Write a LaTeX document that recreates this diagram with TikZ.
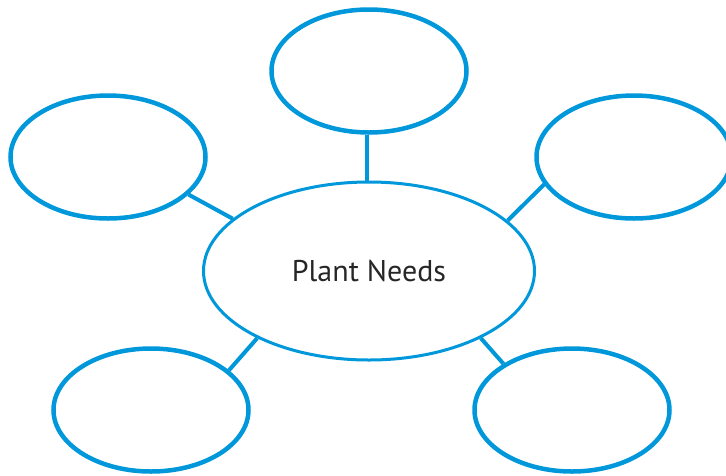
\documentclass[tikz,border=0pt]{standalone}
\usepackage{fontspec}
\setmainfont{PT Sans}
\usetikzlibrary{shapes.geometric}
\definecolor{mapblue}{RGB}{0,152,218}
\tikzset{
  bubble/.style={ellipse, draw=mapblue, line width=4.5pt, minimum width=195pt, minimum height=123pt, inner sep=0pt},
  hub/.style={ellipse, draw=mapblue, line width=3pt, minimum width=331pt, minimum height=178pt, inner sep=0pt, font=\fontsize{30}{34}\selectfont, text=black!85},
  link/.style={draw=mapblue, line width=4pt}
}
\begin{document}
\begin{tikzpicture}[x=1pt,y=-1pt]
\useasboundingbox (0,0) rectangle (726,475);
\node[hub] (c) at (369,271) {Plant Needs};
\node[bubble] (t) at (369,71) {};
\node[bubble] (l) at (108,157) {};
\node[bubble] (r) at (634,157) {};
\node[bubble] (bl) at (151,410) {};
\node[bubble] (br) at (572,410) {};
\draw[link] ([xshift=-2pt]c.north) -- ([xshift=-2pt]t.south);
\draw[link] (c.159.9) -- (l.-25.4);
\draw[link] (c.20.4) -- (r.197.2);
\draw[link] (c.211.3) -- (bl.27.8);
\draw[link] (c.-31.7) -- (br.146.9);
\end{tikzpicture}
\end{document}
